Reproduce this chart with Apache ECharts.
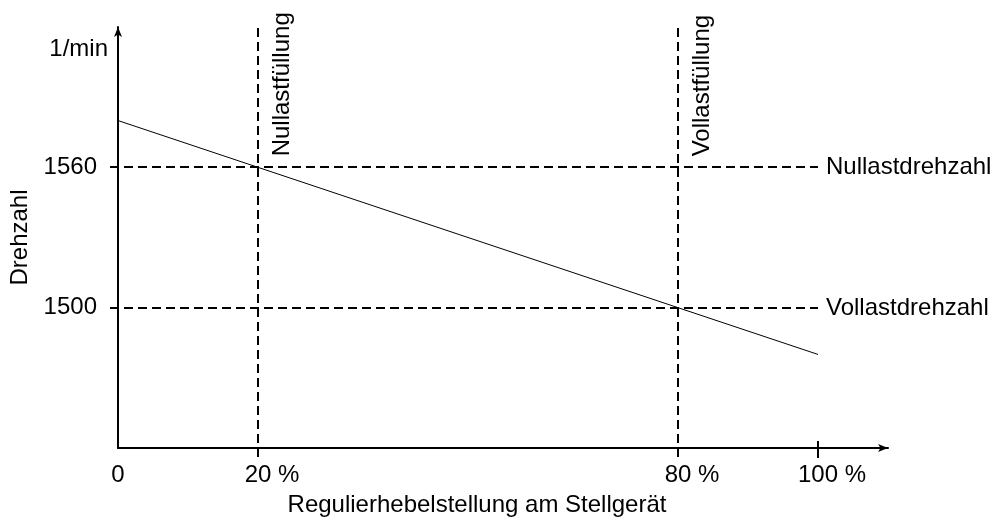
<!DOCTYPE html>
<html>
<head>
<meta charset="utf-8">
<script src="https://cdn.jsdelivr.net/npm/echarts@6/dist/echarts.min.js"></script>
<style>
  html, body { margin: 0; padding: 0; background: #fff; }
  #chart { width: 995px; height: 521px; }
</style>
</head>
<body>
<div id="chart"></div>
<script>
// Drehzahl über Regulierhebelstellung (P-Grad-Kennlinie)
const leverPositions = [0, 20, 80, 100];          // %
const engineSpeeds = [1580, 1560, 1500, 1480];    // 1/min
const xLabelValues = [0, 20, 80, 100];
const xLabelTexts = ['0', '20 %', '80 %', '100 %'];
const yLabelValues = [1500, 1560];
const speedRefValues = [1560, 1500];
const speedRefNames = ['Nullastdrehzahl', 'Vollastdrehzahl'];
const fillRefValues = [20, 80];
const fillRefNames = ['Nullastfüllung', 'Vollastfüllung'];

const FONT = '"Liberation Sans", Arial, sans-serif';
const FS = 24;
const INK = '#000';
const DASH = [9, 5];

const chart = echarts.init(document.getElementById('chart'), null, { renderer: 'canvas' });

const option = {
  animation: false,
  backgroundColor: '#fff',
  textStyle: { fontFamily: FONT, color: INK },
  grid: {
    left: 118, right: 107, top: 27, bottom: 73,
    containLabel: false,
    outerBoundsMode: 'none'
  },
  xAxis: {
    type: 'value',
    min: 0,
    max: 110,
    name: 'Regulierhebelstellung am Stellgerät',
    nameLocation: 'middle',
    nameGap: 45,
    nameTextStyle: { fontFamily: FONT, fontSize: FS, color: INK, padding: [0, 52, 0, 0] },
    axisLine: {
      show: true,
      symbol: ['none', 'arrow'],
      symbolSize: [6, 10],
      lineStyle: { color: INK, width: 2 }
    },
    axisTick: { show: false },
    splitLine: { show: false },
    axisLabel: {
      customValues: xLabelValues,
      margin: 15,
      fontFamily: FONT,
      fontSize: FS,
      color: INK,
      // keep the number centred on its tick; the unit hangs to the right
      formatter: function (v) {
        const t = xLabelTexts[xLabelValues.indexOf(v)];
        if (!t || t.indexOf(' %') < 0) return t || '';
        return '{ghost| %}' + t;
      },
      rich: {
        ghost: { color: 'rgba(0,0,0,0)', fontFamily: FONT, fontSize: FS }
      }
    }
  },
  yAxis: [
    {
      type: 'value',
      min: 1440,
      max: 1620,
      name: '1/min',
      nameLocation: 'end',
      nameGap: -22,
      nameTextStyle: {
        fontFamily: FONT, fontSize: FS, color: INK,
        align: 'right', verticalAlign: 'middle', padding: [0, 10, 0, 0]
      },
      axisLine: {
        show: true,
        symbol: ['none', 'arrow'],
        symbolSize: [6, 10],
        lineStyle: { color: INK, width: 2 }
      },
      axisTick: { show: false },
      splitLine: { show: false },
      axisLabel: {
        customValues: yLabelValues,
        margin: 21,
        fontFamily: FONT,
        fontSize: FS,
        color: INK,
        formatter: function (v) { return String(v); }
      }
    },
    {
      type: 'value',
      min: 1440,
      max: 1620,
      position: 'left',
      name: 'Drehzahl',
      nameLocation: 'middle',
      nameRotate: 90,
      nameGap: 86,
      nameTextStyle: { fontFamily: FONT, fontSize: FS, color: INK },
      axisLine: { show: false },
      axisTick: { show: false },
      axisLabel: { show: false },
      splitLine: { show: false }
    }
  ],
  series: [
    {
      // Drehzahl-Kennlinie
      type: 'line',
      data: leverPositions.map((x, i) => [x, engineSpeeds[i]]),
      showSymbol: false,
      symbol: 'none',
      lineStyle: { color: INK, width: 1 },
      z: 3
    },
    {
      // horizontale Bezugslinien: Nullast- / Vollastdrehzahl
      type: 'custom',
      clip: false,
      data: speedRefValues.map((v, i) => [100, v, i]),
      renderItem: function (params, api) {
        const v = api.value(1);
        const idx = api.value(2);
        const a = api.coord([0, v]);
        const b = api.coord([100, v]);
        const y = Math.round(a[1]);
        return {
          type: 'group',
          children: [
            {
              type: 'line',
              shape: { x1: a[0] - 8, y1: y, x2: b[0], y2: y },
              style: { stroke: INK, lineWidth: 2, lineDash: DASH }
            },
            {
              type: 'text',
              x: b[0] + 8,
              y: y,
              style: {
                text: speedRefNames[idx],
                fontFamily: FONT, fontSize: FS, fill: INK,
                align: 'left', verticalAlign: 'middle'
              }
            }
          ]
        };
      },
      z: 2
    },
    {
      // vertikale Bezugslinien: Nullast- / Vollastfüllung
      type: 'custom',
      clip: false,
      data: fillRefValues.map((x, i) => [x, 1620, i]),
      renderItem: function (params, api) {
        const xv = api.value(0);
        const idx = api.value(2);
        const top = api.coord([xv, 1620]);
        const bottom = api.coord([xv, 1440]);
        const refY = api.coord([xv, speedRefValues[0]])[1];
        const x = Math.round(top[0]);
        return {
          type: 'group',
          children: [
            {
              type: 'line',
              shape: { x1: x, y1: top[1] + 1, x2: x, y2: bottom[1] + 10 },
              style: { stroke: INK, lineWidth: 2, lineDash: DASH }
            },
            {
              type: 'text',
              x: x + 24,
              y: refY - 11,
              rotation: Math.PI / 2,
              style: {
                text: fillRefNames[idx],
                fontFamily: FONT, fontSize: FS, fill: INK,
                align: 'left', verticalAlign: 'middle'
              }
            }
          ]
        };
      },
      z: 2
    },
    {
      // Teilstrich bei 100 %
      type: 'custom',
      clip: false,
      data: [[100, 1440]],
      renderItem: function (params, api) {
        const p = api.coord([api.value(0), api.value(1)]);
        const x = Math.round(p[0]);
        return {
          type: 'line',
          shape: { x1: x, y1: p[1] - 7, x2: x, y2: p[1] + 10 },
          style: { stroke: INK, lineWidth: 2 }
        };
      },
      z: 2
    }
  ]
};

chart.setOption(option);
</script>
</body>
</html>
